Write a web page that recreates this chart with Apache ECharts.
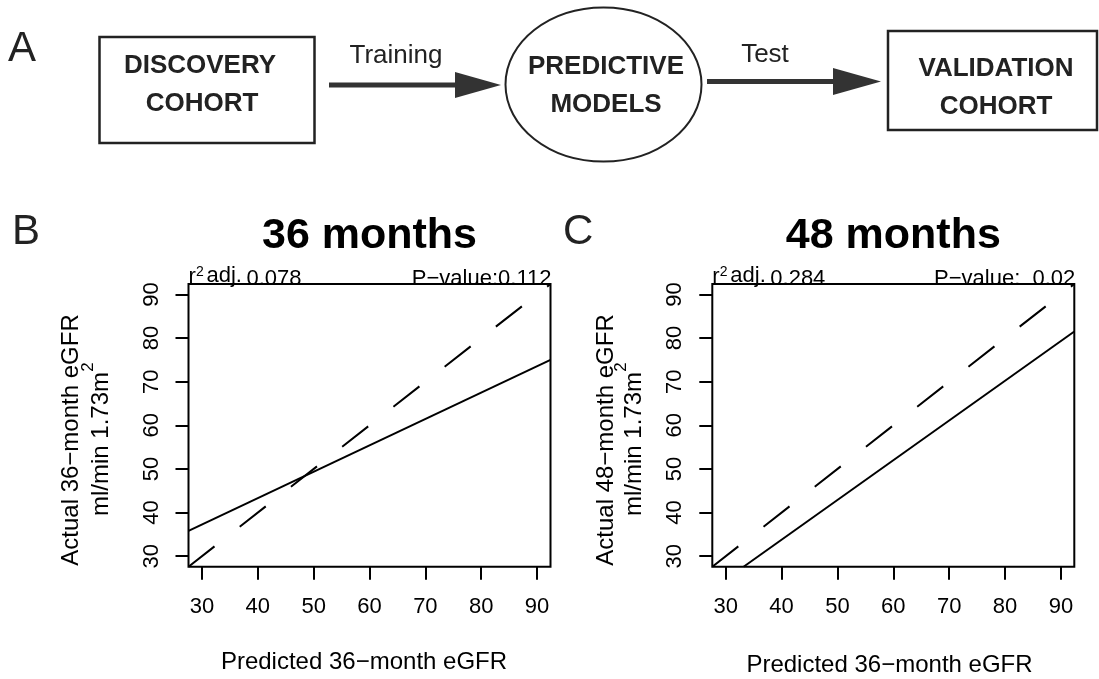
<!DOCTYPE html>
<html><head><meta charset="utf-8">
<script src="https://cdn.jsdelivr.net/npm/echarts@6/dist/echarts.min.js"></script>
<style>html,body{margin:0;padding:0;background:#fff}#c{width:1099px;height:679px}</style>
</head><body><div id="c"></div>
<script>
// ---- data ----
const xTicks = [30, 40, 50, 60, 70, 80, 90];
const yTicks = [30, 40, 50, 60, 70, 80, 90];
const axisRange = [27.6, 92.4];
const identity36 = [[27.6, 27.6], [92.4, 92.4]];
const fit36 = [[27.6, 35.8], [92.4, 75]];
const identity48 = [[27.6, 27.6], [92.4, 92.4]];
const fit48 = [[33.2, 27.6], [92.4, 81.5]];
const panelTitles = ['36 months', '48 months'];
const panelLetters = ['A', 'B', 'C'];
const r2Values = ['0.078', '0.284'];
const pValues = ['P\u2212value:0.112', 'P\u2212value:  0.02'];
const yTitles = ['Actual 36\u2212month eGFR', 'Actual 48\u2212month eGFR'];
const yUnits = 'ml/min 1.73m';
const xTitle = 'Predicted 36\u2212month eGFR';
const flowBoxes = [['DISCOVERY', 'COHORT'], ['PREDICTIVE', 'MODELS'], ['VALIDATION', 'COHORT']];
const flowArrows = ['Training', 'Test'];

const FF = '"Liberation Sans", Arial, Helvetica, sans-serif';
const chart = echarts.init(document.getElementById('c'), null, {renderer: 'canvas'});

const grids = [
  {left: 188.5, top: 284, width: 362, height: 282.7},
  {left: 712.3, top: 284, width: 362, height: 282.7}
];

function mkX(i) {
  return {
    type: 'value', gridIndex: i, min: axisRange[0], max: axisRange[1],
    axisLine: {show: false}, splitLine: {show: false},
    axisTick: {show: true, customValues: xTicks, length: 13, lineStyle: {color: '#000', width: 2}},
    axisLabel: {customValues: xTicks, margin: 29, fontSize: 22, color: '#000', fontFamily: FF}
  };
}
function mkY(i) {
  return {
    type: 'value', gridIndex: i, min: axisRange[0], max: axisRange[1],
    axisLine: {show: false}, splitLine: {show: false},
    axisTick: {show: true, customValues: yTicks, length: 13, lineStyle: {color: '#000', width: 2}},
    axisLabel: {customValues: yTicks, margin: 26, rotate: 90, fontSize: 22, color: '#000', fontFamily: FF}
  };
}
function lineSeries(i, data, dashed) {
  return {
    type: 'line', xAxisIndex: i, yAxisIndex: i, data: data, showSymbol: false, symbol: 'none',
    animation: false, clip: true, silent: true,
    lineStyle: {color: '#000', width: 2, type: dashed ? [33, 32] : 'solid'}
  };
}

function txt(x, y, text, size, opts) {
  opts = opts || {};
  return {
    type: 'text', x: x, y: y, rotation: opts.rot || 0, silent: true,
    style: {text: text, fontSize: size, fontFamily: FF, fontWeight: opts.bold ? 'bold' : 'normal',
      fill: opts.color || '#000', align: opts.align || 'center', verticalAlign: 'middle'}
  };
}

const g = [];
// Panel A flow diagram
g.push(txt(8, 49, panelLetters[0], 42, {align: 'left', color: '#222'}));
g.push({type: 'rect', shape: {x: 99.5, y: 37, width: 215, height: 106}, style: {fill: 'none', stroke: '#222', lineWidth: 2.5}});
g.push(txt(200, 66, flowBoxes[0][0], 26, {bold: true, color: '#222'}));
g.push(txt(202, 104, flowBoxes[0][1], 26, {bold: true, color: '#222'}));
g.push({type: 'ellipse', shape: {cx: 603.5, cy: 84.5, rx: 98, ry: 77}, style: {fill: 'none', stroke: '#222', lineWidth: 2}});
g.push(txt(606, 67, flowBoxes[1][0], 26, {bold: true, color: '#222'}));
g.push(txt(606, 105, flowBoxes[1][1], 26, {bold: true, color: '#222'}));
g.push({type: 'rect', shape: {x: 888, y: 31, width: 209, height: 99}, style: {fill: 'none', stroke: '#222', lineWidth: 2.5}});
g.push(txt(996, 69, flowBoxes[2][0], 26, {bold: true, color: '#222'}));
g.push(txt(996, 107, flowBoxes[2][1], 26, {bold: true, color: '#222'}));
// arrows
g.push({type: 'rect', shape: {x: 329, y: 82.5, width: 130, height: 5}, style: {fill: '#333'}});
g.push({type: 'polygon', shape: {points: [[455, 72], [501, 85], [455, 98]]}, style: {fill: '#333'}});
g.push(txt(396, 56, flowArrows[0], 26, {color: '#222'}));
g.push({type: 'rect', shape: {x: 707, y: 79, width: 130, height: 5}, style: {fill: '#333'}});
g.push({type: 'polygon', shape: {points: [[833, 68], [881, 81.5], [833, 95]]}, style: {fill: '#333'}});
g.push(txt(765, 55, flowArrows[1], 26, {color: '#222'}));

// Panels B and C
const letterX = [12, 563];
const yT1 = [71, 606];
const yT2 = [101, 634];
const xTitleY = [662, 665];
const xTitleX = [364, 889.5];
for (let i = 0; i < 2; i++) {
  const gr = grids[i];
  const cx = gr.left + gr.width / 2;
  g.push(txt(letterX[i], 232, panelLetters[i + 1], 42, {align: 'left', color: '#222'}));
  g.push(txt(cx, 236, panelTitles[i], 43, {bold: true}));
  // r^2 adj.
  g.push(txt(gr.left, 277, 'r', 22, {align: 'left'}));
  g.push(txt(gr.left + 7.5, 272, '2', 14, {align: 'left'}));
  g.push(txt(gr.left + 18, 276, 'adj.', 22, {align: 'left'}));
  g.push(txt(gr.left + 58, 279, r2Values[i], 22, {align: 'left'}));
  g.push(txt(gr.left + gr.width + 1, 279, pValues[i], 22, {align: 'right'}));
  // y title
  g.push(txt(yT1[i], 440, yTitles[i], 24, {rot: Math.PI / 2}));
  g.push(txt(yT2[i], 444, yUnits, 24, {rot: Math.PI / 2}));
  g.push(txt(yT2[i] - 13, 367, '2', 17, {rot: Math.PI / 2}));
  // x title
  g.push(txt(xTitleX[i], xTitleY[i], xTitle, 24));
}

chart.setOption({
  animation: false,
  backgroundColor: '#fff',
  grid: grids.map(gr => Object.assign({show: true, borderColor: '#000', borderWidth: 2, backgroundColor: 'transparent', containLabel: false}, gr)),
  xAxis: [mkX(0), mkX(1)],
  yAxis: [mkY(0), mkY(1)],
  series: [
    lineSeries(0, identity36, true),
    lineSeries(0, fit36, false),
    lineSeries(1, identity48, true),
    lineSeries(1, fit48, false)
  ],
  graphic: g
});
</script>
</body></html>
